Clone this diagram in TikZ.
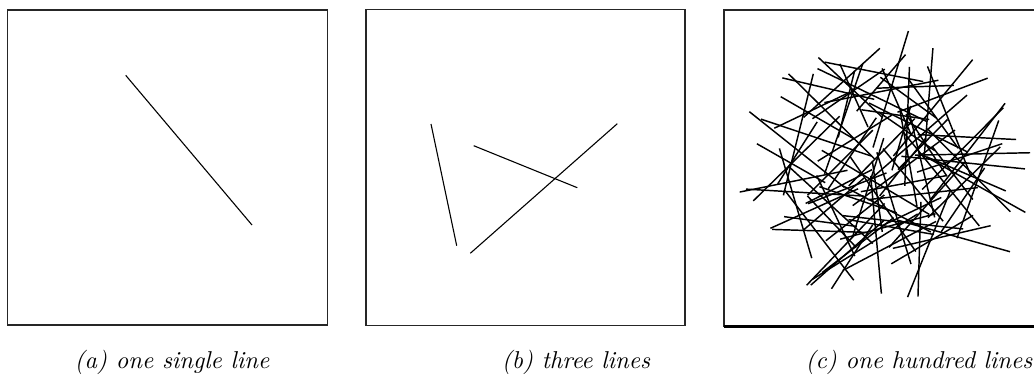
\documentclass[tikz,border=0pt]{standalone}
\usetikzlibrary{positioning}
\tikzset{
  % rahmen und linien
  panel/.style={draw=black!85,line width=0.45pt},
  panelbase/.style={draw=black,line width=0.9pt},
  seg/.style={draw=black,line width=0.45pt},
  rndseg/.style={draw=black,line width=0.6pt},
  subcap/.style={font=\itshape,inner sep=0pt},
}
\begin{document}
\begin{tikzpicture}[x=0.41pt,y=-0.41pt]
  \useasboundingbox (0,0) rectangle (1034,381);
  % panels
  \draw[panel] (7.5,10) rectangle (327.7,325);
  \draw[panel] (366,9.5) rectangle (685,325.5);
  \draw[panel] (1034,10) -- (724,10) -- (724,326.5);
  \draw[panelbase] (724,326.5) -- (1034,326.5);
  % (a)
  \draw[seg] (125.7,75.3) -- (252,225);
  % (b)
  \draw[seg] (431,124) -- (456.7,245.7);
  \draw[seg] (473.7,145.7) -- (577.3,187.7);
  \draw[seg] (470.3,253.3) -- (617.3,123.7);
  % (c)
  \begin{scope}
    \clip (730,16) rectangle (1030,320);
    \pgfmathsetseed{7319}
    \foreach \i in {1,...,100}{
      \pgfmathsetmacro{\ang}{360*rnd}
      \pgfmathsetmacro{\rad}{98*sqrt(rnd)}
      \pgfmathsetmacro{\dir}{180*rnd}
      \pgfmathsetmacro{\len}{32+32*rnd}
      \pgfmathsetmacro{\cx}{883+\rad*cos(\ang)}
      \pgfmathsetmacro{\cy}{169+\rad*sin(\ang)}
      \draw[rndseg] ({\cx-\len*cos(\dir)},{\cy-\len*sin(\dir)})
        -- ({\cx+\len*cos(\dir)},{\cy+\len*sin(\dir)});
    }
  \end{scope}
  % captions
  \node[subcap] (capa) at (172,362) {(a) one single line};
  \node[subcap] (capb) at (576,362) {(b) three lines};
  \node[subcap] (capc) at (919,362) {(c) one hundred lines};
\end{tikzpicture}
\end{document}
